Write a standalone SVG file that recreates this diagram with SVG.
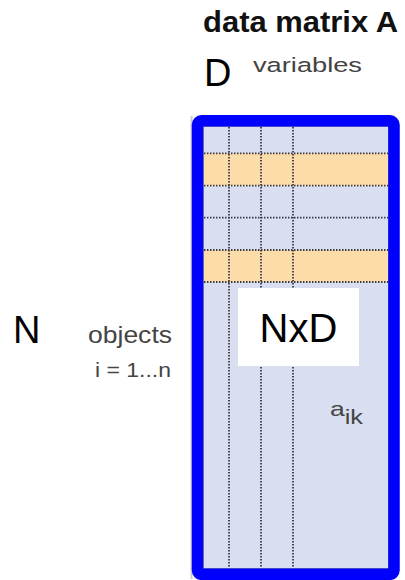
<svg xmlns="http://www.w3.org/2000/svg" width="405" height="580" viewBox="0 0 405 580">
<style>
.lbl{font-family:"Liberation Sans",Arial,sans-serif}
.big{fill:#000;font-size:38px}
.small{fill:#444;}
.grid{stroke:#3a3a44;stroke-width:1.8;stroke-dasharray:1.5 1.5;fill:none}
</style>
<rect width="405" height="580" fill="#fff"/>
<g id="title">
<text class="lbl" x="203" y="31.5" font-size="29" font-weight="bold" fill="#111" textLength="195" lengthAdjust="spacingAndGlyphs">data matrix A</text>
</g>
<g id="D-label">
<text class="lbl big" x="204" y="85.5">D</text>
<text class="lbl small" x="253" y="71.7" font-size="20.5" textLength="109" lengthAdjust="spacingAndGlyphs">variables</text>
</g>
<g id="N-label">
<text class="lbl big" x="13" y="342.5">N</text>
<text class="lbl small" x="88" y="343.3" font-size="24" textLength="84" lengthAdjust="spacingAndGlyphs">objects</text>
<text class="lbl small" x="95" y="377" font-size="21" textLength="76" lengthAdjust="spacingAndGlyphs">i = 1...n</text>
</g>
<g id="matrix">
<rect x="190.5" y="116" width="2" height="463" fill="#ccc"/>
<rect x="203.5" y="126.5" width="185" height="442" fill="#d9dff0" stroke="#8a8a99" stroke-width="1"/>
<rect x="204" y="153.3" width="184" height="32.4" fill="#fcdca8"/>
<rect x="204" y="250" width="184" height="32" fill="#fcdca8"/>
<g class="grid">
<line x1="204" y1="153.3" x2="388" y2="153.3"/>
<line x1="204" y1="185.7" x2="388" y2="185.7"/>
<line x1="204" y1="217.7" x2="388" y2="217.7"/>
<line x1="204" y1="250" x2="388" y2="250"/>
<line x1="204" y1="282" x2="388" y2="282"/>
<line x1="229" y1="127" x2="229" y2="567"/>
<line x1="261" y1="127" x2="261" y2="567"/>
<line x1="293" y1="127" x2="293" y2="567"/>
</g>
<rect x="197.5" y="120.8" width="196.5" height="453.5" rx="4" fill="none" stroke="#0000ff" stroke-width="11.5"/>
</g>
<g id="NxD">
<rect x="238" y="288" width="121" height="78" fill="#fff"/>
<text class="lbl" x="298.5" y="342" font-size="40" text-anchor="middle" fill="#000">NxD</text>
</g>
<g id="aik">
<text class="lbl small" x="330" y="416" font-size="21" textLength="33" lengthAdjust="spacingAndGlyphs">a<tspan font-size="20" dy="7.5">ik</tspan></text>
</g>
</svg>
